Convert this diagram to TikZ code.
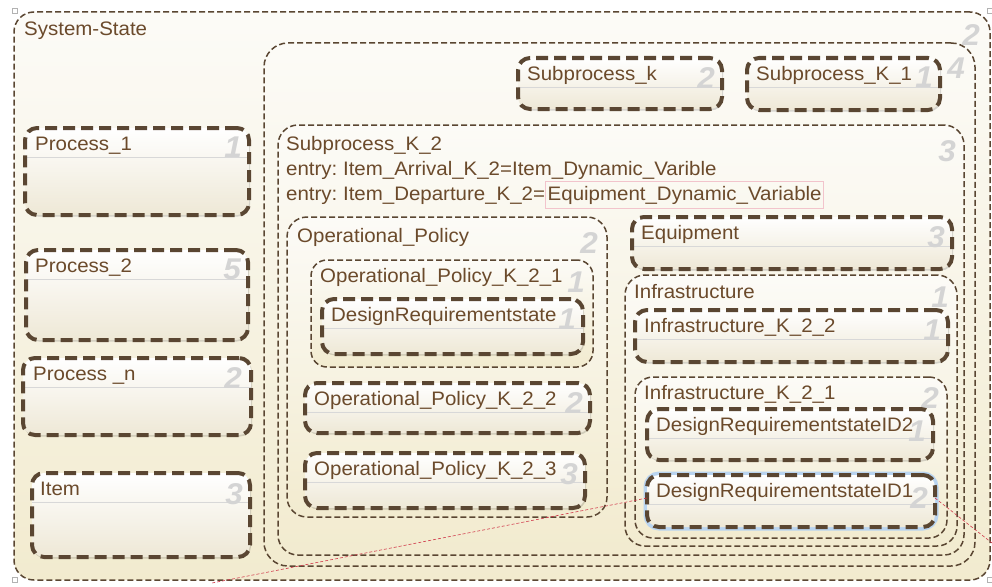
\documentclass[tikz,border=0pt]{standalone}
\usepackage{fontspec}
\setmainfont{Liberation Sans}[FakeStretch=1.05]
\usetikzlibrary{positioning,shadows}
\frenchspacing

\definecolor{brd}{HTML}{5A4632}
\definecolor{txt}{HTML}{6B4A2B}
\definecolor{numgray}{HTML}{D4D4D4}
\definecolor{sepgray}{HTML}{D8D8D8}
\definecolor{creamtop}{HTML}{FCFBF7}
\definecolor{creambot}{HTML}{F2EBCF}
\definecolor{boxbot}{HTML}{EEE8D6}
\definecolor{selblue}{HTML}{B9D4F0}
\definecolor{pinkline}{HTML}{F2C4CC}
\definecolor{linkred}{HTML}{D0384A}

\newcommand{\boxfont}{\fontsize{19.5}{23}\selectfont}
\newcommand{\numfont}{\fontsize{30}{32}\selectfont\bfseries\itshape}

\tikzset{
  container/.style={draw=brd, line width=1.5pt, dash pattern=on 6pt off 3pt,
    rounded corners=20pt, top color=creamtop, bottom color=creambot,
    anchor=north west, inner sep=0pt, outer sep=0pt},
  statebox/.style={draw=brd, line width=4pt, dash pattern=on 12pt off 6pt,
    rounded corners=12pt, top color=white, bottom color=boxbot,
    anchor=north west, inner sep=0pt, outer sep=0pt,
    drop shadow={shadow xshift=1pt, shadow yshift=-1.5pt, fill=black, opacity=0.15},
    path picture={\draw[sepgray, line width=1pt, solid]
      ([yshift=-29pt]path picture bounding box.north west) --
      ([yshift=-29pt]path picture bounding box.north east);}},
  selected/.style={preaction={draw=selblue, line width=7pt, solid}},
  title/.style={text=txt, font=\boxfont, inner sep=0pt, anchor=base west},
  num/.style={text=numgray, font=\numfont, inner sep=0pt, anchor=north east},
  link/.style={draw=linkred, line width=0.6pt, densely dashed},
  handle/.style={draw=gray!60, fill=white, line width=0.5pt, solid},
}

\begin{document}
\begin{tikzpicture}[x=1pt, y=-1pt]
\useasboundingbox (0,0) rectangle (992,586);
\fill[white] (0,0) rectangle (992,586);

% outer state and its containers
\node[container, minimum width=976pt, minimum height=568pt] (sys) at (14,12) {};
\node[title] (sys-t) at ([xshift=10pt,yshift=-24pt]sys.north west) {System-State};
\node[num] (sys-n) at ([xshift=-10pt,yshift=-12pt]sys.north east) {2};

\node[container, rounded corners=24pt, minimum width=711pt, minimum height=523pt] (grp) at (264,43) {};
\node[num] (grp-n) at ([xshift=-10pt,yshift=-15pt]grp.north east) {4};

\node[statebox, minimum width=204pt, minimum height=51pt] (subk) at (518,58) {};
\node[title] (subk-t) at ([xshift=9pt,yshift=-22pt]subk.north west) {Subprocess\_k};
\node[num] (subk-n) at ([xshift=-7pt,yshift=-9pt]subk.north east) {2};

\node[statebox, minimum width=193pt, minimum height=52pt] (subk1) at (747,58) {};
\node[title] (subk1-t) at ([xshift=9pt,yshift=-22pt]subk1.north west) {Subprocess\_K\_1};
\node[num] (subk1-n) at ([xshift=-7pt,yshift=-9pt]subk1.north east) {1};

% Subprocess_K_2
\node[container, minimum width=686pt, minimum height=430pt] (subk2) at (278,125) {};
\node[title] (subk2-t) at ([xshift=8pt,yshift=-25pt]subk2.north west) {Subprocess\_K\_2};
\node[title, below=25pt of subk2-t.base west, anchor=base west] (subk2-e1) {entry: Item\_Arrival\_K\_2=Item\_Dynamic\_Varible};
\node[title, below=25pt of subk2-e1.base west, anchor=base west] (subk2-e2) {entry: Item\_Departure\_K\_2=};
\node[title, right=0pt of subk2-e2.base east, anchor=base west, draw=pinkline, line width=0.8pt,
  inner xsep=2pt, inner ysep=4.5pt] (subk2-e3) {Equipment\_Dynamic\_Variable\hspace{7pt}};
\node[num] (subk2-n) at ([xshift=-8pt,yshift=-15pt]subk2.north east) {3};

% operational policy
\node[container, minimum width=320pt, minimum height=300pt] (opp) at (287,217) {};
\node[title] (opp-t) at ([xshift=10pt,yshift=-25pt]opp.north west) {Operational\_Policy};
\node[num] (opp-n) at ([xshift=-9pt,yshift=-15pt]opp.north east) {2};

\node[container, rounded corners=16pt, minimum width=282pt, minimum height=107pt] (op21) at (311,260) {};
\node[title] (op21-t) at ([xshift=9pt,yshift=-22pt]op21.north west) {Operational\_Policy\_K\_2\_1};
\node[num] (op21-n) at ([xshift=-8pt,yshift=-12pt]op21.north east) {1};

\node[statebox, minimum width=261pt, minimum height=55pt] (dreq) at (322,299) {};
\node[title] (dreq-t) at ([xshift=9pt,yshift=-22pt]dreq.north west) {DesignRequirementstate};
\node[num] (dreq-n) at ([xshift=-7pt,yshift=-10pt]dreq.north east) {1};

\node[statebox, minimum width=285pt, minimum height=50pt] (op22) at (305,383) {};
\node[title] (op22-t) at ([xshift=9pt,yshift=-22pt]op22.north west) {Operational\_Policy\_K\_2\_2};
\node[num] (op22-n) at ([xshift=-7pt,yshift=-9pt]op22.north east) {2};

\node[statebox, minimum width=280pt, minimum height=55pt] (op23) at (305,453) {};
\node[title] (op23-t) at ([xshift=9pt,yshift=-22pt]op23.north west) {Operational\_Policy\_K\_2\_3};
\node[num] (op23-n) at ([xshift=-7pt,yshift=-10pt]op23.north east) {3};

% equipment and infrastructure
\node[statebox, minimum width=320pt, minimum height=52pt] (equip) at (632,217) {};
\node[title] (equip-t) at ([xshift=9pt,yshift=-22pt]equip.north west) {Equipment};
\node[num] (equip-n) at ([xshift=-7pt,yshift=-9pt]equip.north east) {3};

\node[container, minimum width=332pt, minimum height=271pt] (infra) at (625,275) {};
\node[title] (infra-t) at ([xshift=9pt,yshift=-23pt]infra.north west) {Infrastructure};
\node[num] (infra-n) at ([xshift=-8pt,yshift=-12pt]infra.north east) {1};

\node[statebox, minimum width=313pt, minimum height=52pt] (inf22) at (635,310) {};
\node[title] (inf22-t) at ([xshift=9pt,yshift=-22pt]inf22.north west) {Infrastructure\_K\_2\_2};
\node[num] (inf22-n) at ([xshift=-7pt,yshift=-10pt]inf22.north east) {1};

\node[container, rounded corners=18pt, minimum width=312pt, minimum height=161pt] (inf21) at (635,377) {};
\node[title] (inf21-t) at ([xshift=9pt,yshift=-22pt]inf21.north west) {Infrastructure\_K\_2\_1};
\node[num] (inf21-n) at ([xshift=-8pt,yshift=-10pt]inf21.north east) {2};

\node[statebox, minimum width=286pt, minimum height=51pt] (id2) at (647,409) {};
\node[title] (id2-t) at ([xshift=9pt,yshift=-22pt]id2.north west) {DesignRequirementstateID2};
\node[num] (id2-n) at ([xshift=-7pt,yshift=-12pt]id2.north east) {1};

\node[statebox, selected, minimum width=288pt, minimum height=52pt] (id1) at (647,475) {};
\node[title] (id1-t) at ([xshift=9pt,yshift=-22pt]id1.north west) {DesignRequirementstateID1};
\node[num] (id1-n) at ([xshift=-7pt,yshift=-12pt]id1.north east) {2};

% processes and item
\node[statebox, minimum width=224pt, minimum height=87pt] (proc1) at (25,128) {};
\node[title] (proc1-t) at ([xshift=10pt,yshift=-22pt]proc1.north west) {Process\_1};
\node[num] (proc1-n) at ([xshift=-7pt,yshift=-9pt]proc1.north east) {1};

\node[statebox, minimum width=222pt, minimum height=90pt] (proc2) at (26,250) {};
\node[title] (proc2-t) at ([xshift=9pt,yshift=-22pt]proc2.north west) {Process\_2};
\node[num] (proc2-n) at ([xshift=-7pt,yshift=-9pt]proc2.north east) {5};

\node[statebox, minimum width=228pt, minimum height=77pt] (procn) at (23,358) {};
\node[title] (procn-t) at ([xshift=10pt,yshift=-22pt]procn.north west) {Process \_n};
\node[num] (procn-n) at ([xshift=-9pt,yshift=-9pt]procn.north east) {2};

\node[statebox, minimum width=218pt, minimum height=84pt] (item) at (32,473) {};
\node[title] (item-t) at ([xshift=8pt,yshift=-22pt]item.north west) {Item};
\node[num] (item-n) at ([xshift=-7pt,yshift=-10pt]item.north east) {3};

% links out of the selected state
\coordinate (lnk-w) at (212,583);
\coordinate (lnk-e) at (992,543);
\draw[link] ([yshift=3pt]id1.west) -- (lnk-w);
\draw[link] ([yshift=3pt]id1.east) -- (lnk-e);

% selection handles
\draw[handle] (12,8) rectangle +(5,5);
\draw[handle] (987,8) rectangle +(5,5);
\draw[handle] (12,577) rectangle +(5,5);
\draw[handle] (987,577) rectangle +(5,5);
\end{tikzpicture}
\end{document}
